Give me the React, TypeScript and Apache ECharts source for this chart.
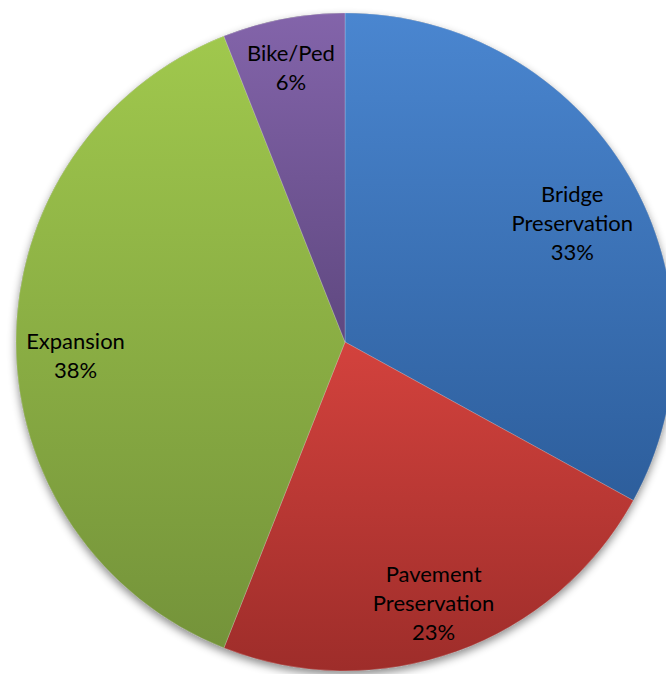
import React, { useEffect, useRef } from "react";
import * as echarts from "echarts";

const categories = ["Bridge\nPreservation", "Pavement\nPreservation", "Expansion", "Bike/Ped"];
const values = [33, 23, 38, 6];
const topColors = ["#4a86d0", "#d3423d", "#a0c84d", "#8364aa"];
const bottomColors = ["#2d5e9c", "#9e2d2a", "#74933a", "#5f4880"];
const labelShifts = [
  [-3, 17],
  [-2, 9],
  [-2, 13],
  [-4, -12],
];

export default function App() {
  const ref = useRef<HTMLDivElement>(null);
  useEffect(() => {
    const chart = echarts.init(ref.current!, null, { renderer: "svg" });
    const center = [345, 342];
    const R = 329;
    const sliceData = categories.map((name, i) => ({
      name,
      value: values[i],
      itemStyle: {
        color: new echarts.graphic.LinearGradient(0, 0, 0, 1, [
          { offset: 0, color: topColors[i] },
          { offset: 1, color: bottomColors[i] },
        ]),
      },
    }));
    chart.setOption({
      animation: false,
      series: [
        {
          type: "pie",
          silent: true,
          center,
          radius: [0, R],
          startAngle: 90,
          clockwise: true,
          z: 1,
          label: { show: false },
          labelLine: { show: false },
          itemStyle: {
            color: "#888",
            shadowBlur: 8,
            shadowOffsetY: 4,
            shadowColor: "rgba(0,0,0,0.45)",
          },
          data: [{ name: "bg", value: 1 }],
        },
        {
          type: "pie",
          silent: true,
          center,
          radius: [0, R],
          startAngle: 90,
          clockwise: true,
          z: 2,
          label: { show: false },
          labelLine: { show: false },
          itemStyle: { borderWidth: 0.6, borderColor: "rgba(255,255,255,0.35)" },
          data: sliceData,
        },
        {
          type: "pie",
          silent: true,
          center,
          radius: [200, R],
          startAngle: 90,
          clockwise: true,
          z: 3,
          itemStyle: { color: "rgba(0,0,0,0)" },
          labelLine: { show: false },
          labelLayout: (p: any) => ({
            dx: labelShifts[p.dataIndex][0],
            dy: labelShifts[p.dataIndex][1],
          }),
          label: {
            show: true,
            position: "inside",
            formatter: (p: any) => `${p.name}\n${p.value}%`,
            color: "#000",
            fontFamily: "Lato",
            fontSize: 22,
            lineHeight: 29,
            align: "center",
          },
          data: categories.map((name, i) => ({ name, value: values[i] })),
        },
      ],
    });
    return () => chart.dispose();
  }, []);
  return (
    <div
      ref={ref}
      style={{ position: "fixed", left: 0, top: 0, width: 666, height: 674, background: "#fff" }}
    />
  );
}
